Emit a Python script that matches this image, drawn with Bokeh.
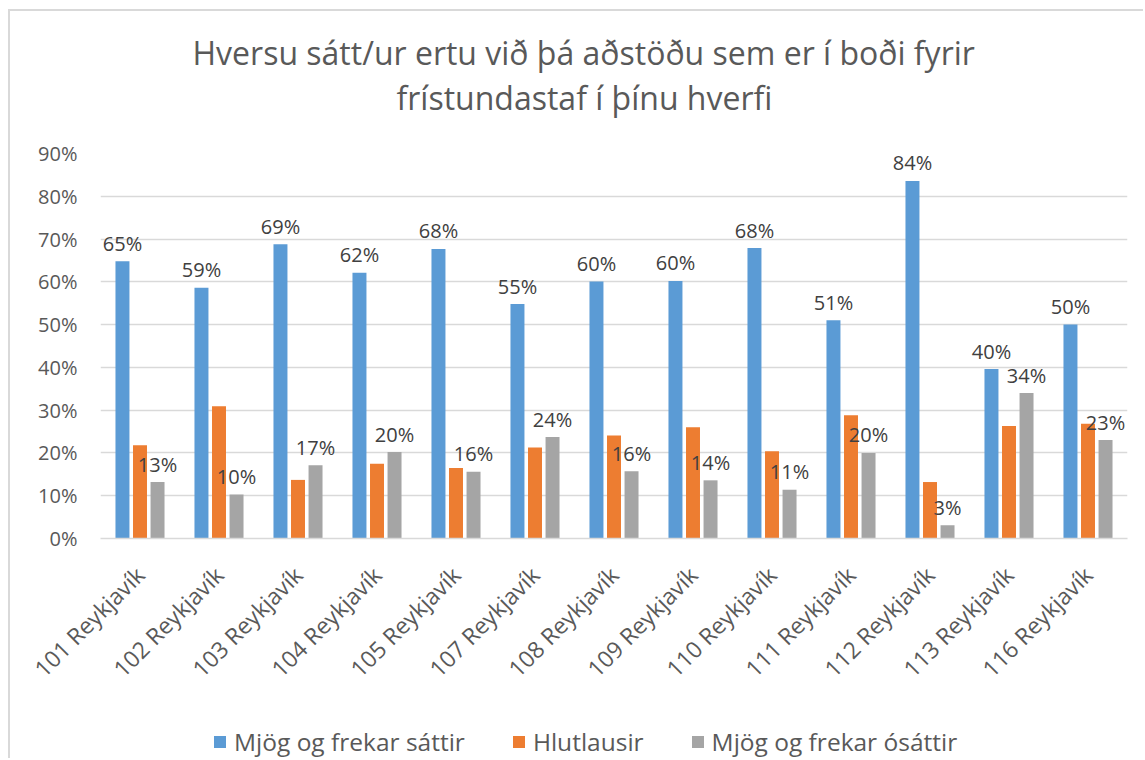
from math import pi
from bokeh.plotting import figure
from bokeh.layouts import column
from bokeh.models import (FactorRange, Range1d, NumeralTickFormatter, Legend, LegendItem,
                          Title, ColumnDataSource, FixedTicker)
from bokeh.transform import dodge
from bokeh.core.properties import value
from bokeh.embed import file_html
from bokeh.resources import INLINE

# ---- data ----
categories = ["101 Reykjavík", "102 Reykjavík", "103 Reykjavík", "104 Reykjavík",
              "105 Reykjavík", "107 Reykjavík", "108 Reykjavík", "109 Reykjavík",
              "110 Reykjavík", "111 Reykjavík", "112 Reykjavík", "113 Reykjavík",
              "116 Reykjavík"]
satisfied = [0.648, 0.586, 0.688, 0.621, 0.677, 0.548, 0.601, 0.602, 0.679, 0.510, 0.836, 0.396, 0.500]
neutral = [0.218, 0.309, 0.137, 0.175, 0.165, 0.213, 0.241, 0.260, 0.204, 0.288, 0.132, 0.263, 0.268]
dissatisfied = [0.132, 0.103, 0.171, 0.202, 0.156, 0.237, 0.157, 0.136, 0.114, 0.200, 0.031, 0.340, 0.230]
series_names = ["Mjög og frekar sáttir", "Hlutlausir", "Mjög og frekar ósáttir"]
title_lines = ["Hversu sátt/ur ertu við þá aðstöðu sem er í boði fyrir",
               "frístundastaf í þínu hverfi"]
y_ticks = [0.0, 0.1, 0.2, 0.3, 0.4, 0.5, 0.6, 0.7, 0.8, 0.9]

colors = ["#5B9BD5", "#ED7D31", "#A5A5A5"]
FONT = "Open Sans"
TEXT = "#595959"
W = 1133

source = ColumnDataSource(dict(
    cat=categories,
    s=satisfied, n=neutral, d=dissatisfied,
    s_lab=[f"{round(v * 100)}%" for v in satisfied],
    d_lab=[f"{round(v * 100)}%" for v in dissatisfied],
))

p = figure(x_range=FactorRange(factors=categories), y_range=Range1d(0, 0.9),
           frame_width=1027, frame_height=385, output_backend="svg", toolbar_location=None,
           title=None,
           min_border_left=90, min_border_right=16, min_border_top=142, min_border_bottom=160)
p.outline_line_color = None
p.background_fill_color = "white"
p.border_fill_color = "white"

offsets = [-0.222, 0.0, 0.222]
cols = ["s", "n", "d"]
bw = 0.177
for off, col, c in zip(offsets, cols, colors):
    p.vbar(x=dodge("cat", off, range=p.x_range), top=col, width=bw, source=source,
           fill_color=c, line_color=None)

for off, col in [(offsets[0], "s_lab"), (offsets[2], "d_lab")]:
    ycol = "s" if col == "s_lab" else "d"
    p.text(x=dodge("cat", off, range=p.x_range), y=ycol, text=col, source=source,
           text_font=value(FONT), text_font_size="20px", text_color="#404040",
           text_align="center", text_baseline="alphabetic", y_offset=-18)

# axes
p.yaxis.ticker = FixedTicker(ticks=y_ticks)
p.yaxis.formatter = NumeralTickFormatter(format="0%")
p.yaxis.axis_line_color = None
p.yaxis.major_tick_line_color = None
p.yaxis.minor_tick_line_color = None
p.yaxis.major_tick_out = 0
p.yaxis.major_tick_in = 0
p.yaxis.major_label_standoff = 23
p.yaxis.major_label_text_font = FONT
p.yaxis.major_label_text_font_size = "20px"
p.yaxis.major_label_text_color = TEXT

p.xaxis.major_label_orientation = pi / 4
p.xaxis.axis_line_color = "#d9d9d9"
p.xaxis.axis_line_width = 1.5
p.xaxis.major_tick_line_color = None
p.xaxis.major_tick_out = 0
p.xaxis.major_tick_in = 0
p.xaxis.major_label_standoff = 32
p.xaxis.major_label_text_font = FONT
p.xaxis.major_label_text_font_size = "23px"
p.xaxis.major_label_text_color = TEXT

p.xgrid.grid_line_color = None
p.ygrid.grid_line_color = "#d9d9d9"
p.ygrid.grid_line_width = 1.5

# titles (added nearest-first): spacer, line 2, line 1
p.add_layout(Title(text=" ", text_font=FONT, text_font_size="2px", standoff=30), "above")
p.add_layout(Title(text=title_lines[1], align="left", offset=296, text_font=FONT,
                   text_font_size="32px", text_font_style="normal", text_color=TEXT,
                   standoff=0), "above")
p.add_layout(Title(text=title_lines[0], align="left", offset=92, text_font=FONT,
                   text_font_size="32px", text_font_style="normal", text_color=TEXT,
                   standoff=0), "above")

# legend strip below the chart (bars lie outside its visible y range; only the legend shows)
lg = figure(width=W, height=60, x_range=FactorRange(factors=categories), y_range=Range1d(1.0, 2.0),
            output_backend="svg", toolbar_location=None, title=None,
            x_axis_location=None, y_axis_location=None,
            min_border_left=0, min_border_right=0, min_border_top=0, min_border_bottom=0)
lg.outline_line_color = None
lg.grid.visible = False
legend_renderers = []
for off, col, c in zip(offsets, cols, colors):
    legend_renderers.append(lg.vbar(x=dodge("cat", off, range=lg.x_range), top=col, width=bw,
                                    source=source, fill_color=c, line_color=None))
legend = Legend(items=[LegendItem(label=n, renderers=[r]) for n, r in zip(series_names, legend_renderers)],
                orientation="horizontal", location=(112, 0),
                glyph_width=15, glyph_height=15, label_standoff=7, spacing=46,
                label_text_font=FONT, label_text_font_size="24.5px", label_text_color=TEXT,
                border_line_color=None, background_fill_alpha=0, padding=0, margin=0)
lg.add_layout(legend, "center")

layout = column(p, lg, spacing=0,
                styles={"border-left": "2px solid #d9d9d9", "border-top": "2px solid #d9d9d9",
                        "margin-left": "8px", "margin-top": "9px"})

open("out.html", "w").write(file_html(layout, INLINE))
